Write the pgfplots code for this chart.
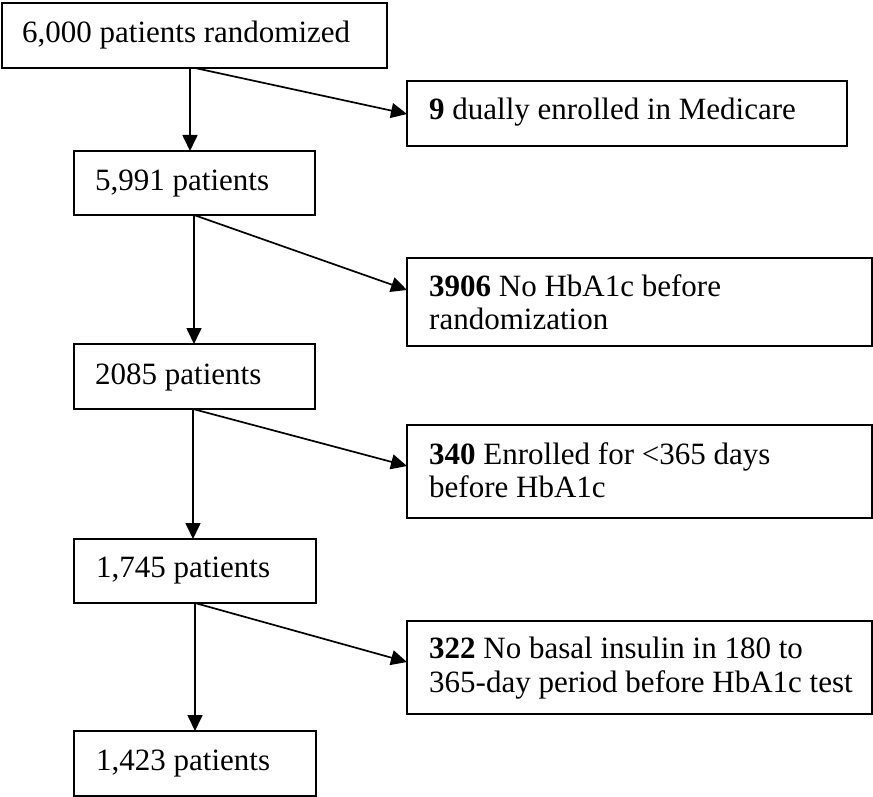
\documentclass[border=0pt]{standalone}
\usepackage{fontspec}
\setmainfont{Liberation Serif}
\usepackage{pgfplots}
\pgfplotsset{compat=1.18}
\usetikzlibrary{arrows.meta}
\begin{document}
\begin{tikzpicture}[lbl/.style={font=\fontsize{31bp}{33bp}\selectfont, anchor=base west, inner sep=0pt}]
\begin{axis}[width=873bp,height=797bp,scale only axis,
  xmin=0,xmax=873,ymin=0,ymax=797,y dir=reverse,hide axis,clip=false,
  box/.style={black,line width=1.9bp,line cap=rect,line join=miter},
  arr/.style={black,line width=1.7bp,-{Triangle[length=16bp,width=15bp]}}]
\addplot[draw=none] coordinates {(0,0) (873,797)};
% main boxes
\addplot[box] coordinates {(2,3) (387,3) (387,68) (2,68) (2,3)};
\addplot[box] coordinates {(74,151) (315,151) (315,215) (74,215) (74,151)};
\addplot[box] coordinates {(74,344) (315,344) (315,409) (74,409) (74,344)};
\addplot[box] coordinates {(74,539) (316,539) (316,603) (74,603) (74,539)};
\addplot[box] coordinates {(74,731) (316,731) (316,796) (74,796) (74,731)};
% side boxes
\addplot[box] coordinates {(407,81) (847,81) (847,146) (407,146) (407,81)};
\addplot[box] coordinates {(407,258) (872,258) (872,346) (407,346) (407,258)};
\addplot[box] coordinates {(407,425) (872,425) (872,518) (407,518) (407,425)};
\addplot[box] coordinates {(407,621) (872,621) (872,714) (407,714) (407,621)};
% vertical arrows
\addplot[arr] coordinates {(190,68) (190,151)};
\addplot[arr] coordinates {(194,215) (194,344)};
\addplot[arr] coordinates {(193,409) (193,539)};
\addplot[arr] coordinates {(195,603) (195,731)};
% diagonal arrows
\addplot[arr] coordinates {(195,68) (407,114)};
\addplot[arr] coordinates {(194,215) (407,290)};
\addplot[arr] coordinates {(193,409) (407,466)};
\addplot[arr] coordinates {(195,603) (407,662)};
% texts
\node[lbl] at (axis cs:22,43) {6,000 patients randomized};
\node[lbl] at (axis cs:95,191) {5,991 patients};
\node[lbl] at (axis cs:95,384) {2085 patients};
\node[lbl] at (axis cs:96,577) {1,745 patients};
\node[lbl] at (axis cs:96,770) {1,423 patients};
\node[lbl] at (axis cs:429,120) {\textbf{9} dually enrolled in Medicare};
\node[lbl] at (axis cs:429,296) {\textbf{3906} No HbA1c before};
\node[lbl] at (axis cs:429,329) {randomization};
\node[lbl] at (axis cs:429,464) {\textbf{340} Enrolled for <365 days};
\node[lbl] at (axis cs:429,497) {before HbA1c};
\node[lbl] at (axis cs:429,658) {\textbf{322} No basal insulin in 180 to};
\node[lbl] at (axis cs:429,692) {365-day period before HbA1c test};
\end{axis}
\end{tikzpicture}
\end{document}
